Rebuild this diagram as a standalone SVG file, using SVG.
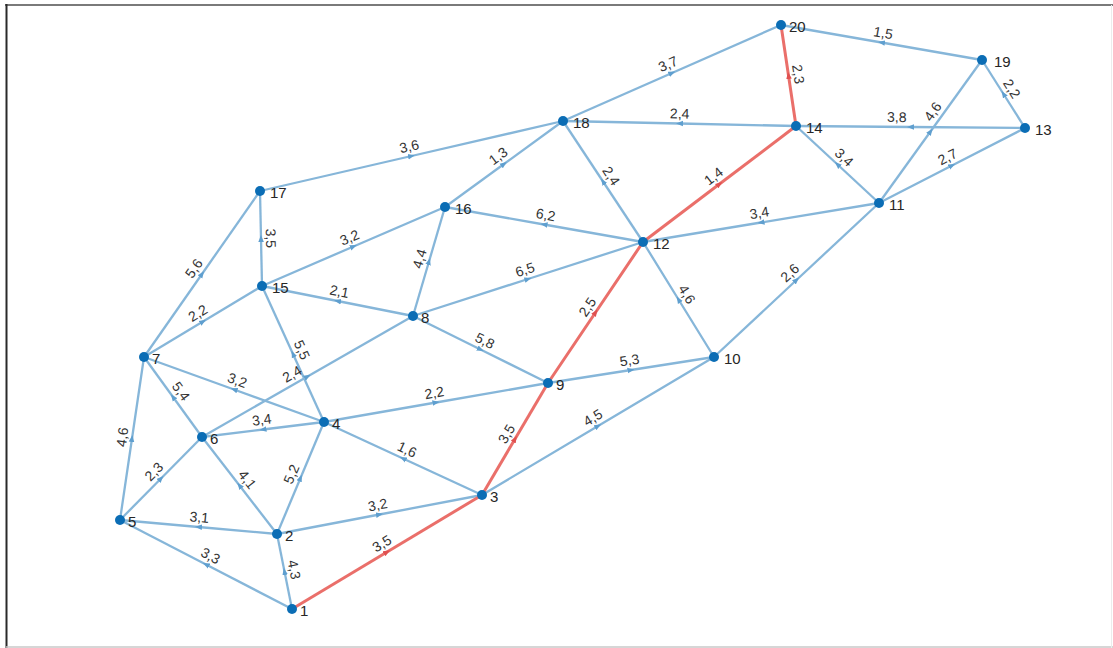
<svg xmlns="http://www.w3.org/2000/svg" xmlns:xlink="http://www.w3.org/1999/xlink" width="1113" height="648" viewBox="0 0 1113 648">
<style>
.e{fill:none;stroke:#86b6d9;stroke-width:2.3;marker-mid:url(#ab)}
.r{fill:none;stroke:#ea6f6a;stroke-width:3;marker-mid:url(#ar)}
.el{font-family:"Liberation Sans",Arial,sans-serif;font-size:14px;fill:#333333;text-anchor:middle}
.n circle{fill:#0b6db5}
.n text{font-family:"Liberation Sans",Arial,sans-serif;font-size:15px;fill:#262626}
</style>
<defs>
<marker id="ab" viewBox="0 0 10 10" refX="5" refY="5" markerWidth="7" markerHeight="7" markerUnits="userSpaceOnUse" orient="auto"><path d="M0,1 L10,5 L0,9 z" fill="#5f9fcf"/></marker>
<marker id="ar" viewBox="0 0 10 10" refX="5" refY="5" markerWidth="7" markerHeight="7" markerUnits="userSpaceOnUse" orient="auto"><path d="M0,1 L10,5 L0,9 z" fill="#e05050"/></marker>
<path id="t1-2" d="M277,534 L292,609"/>
<path id="t1-3" d="M292,609 L482,495"/>
<path id="t1-5" d="M120,520 L292,609"/>
<path id="t2-3" d="M277,534 L482,495"/>
<path id="t2-4" d="M277,534 L324,422"/>
<path id="t2-5" d="M120,520 L277,534"/>
<path id="t2-6" d="M202,437 L277,534"/>
<path id="t3-4" d="M324,422 L482,495"/>
<path id="t3-9" d="M482,495 L548,383"/>
<path id="t3-10" d="M482,495 L714,357"/>
<path id="t4-6" d="M202,437 L324,422"/>
<path id="t4-7" d="M144,357 L324,422"/>
<path id="t4-9" d="M324,422 L548,383"/>
<path id="t4-15" d="M262,286 L324,422"/>
<path id="t5-6" d="M120,520 L202,437"/>
<path id="t5-7" d="M120,520 L144,357"/>
<path id="t6-7" d="M144,357 L202,437"/>
<path id="t6-8" d="M202,437 L413,316"/>
<path id="t7-15" d="M144,357 L262,286"/>
<path id="t7-17" d="M144,357 L260,191"/>
<path id="t8-9" d="M413,316 L548,383"/>
<path id="t8-12" d="M413,316 L643,242"/>
<path id="t8-15" d="M262,286 L413,316"/>
<path id="t8-16" d="M413,316 L445,207"/>
<path id="t9-10" d="M548,383 L714,357"/>
<path id="t9-12" d="M548,383 L643,242"/>
<path id="t10-11" d="M714,357 L879,203"/>
<path id="t10-12" d="M643,242 L714,357"/>
<path id="t11-12" d="M643,242 L879,203"/>
<path id="t11-13" d="M879,203 L1025,128"/>
<path id="t11-14" d="M796,126 L879,203"/>
<path id="t11-19" d="M879,203 L982,60"/>
<path id="t12-14" d="M643,242 L796,126"/>
<path id="t12-16" d="M445,207 L643,242"/>
<path id="t12-18" d="M563,121 L643,242"/>
<path id="t13-14" d="M796,126 L1025,128"/>
<path id="t13-19" d="M982,60 L1025,128"/>
<path id="t14-18" d="M563,121 L796,126"/>
<path id="t14-20" d="M781,25 L796,126"/>
<path id="t15-16" d="M262,286 L445,207"/>
<path id="t15-17" d="M260,191 L262,286"/>
<path id="t16-18" d="M445,207 L563,121"/>
<path id="t17-18" d="M260,191 L563,121"/>
<path id="t18-20" d="M563,121 L781,25"/>
<path id="t19-20" d="M781,25 L982,60"/>
</defs>
<rect x="0" y="0" width="1113" height="648" fill="#ffffff"/>
<line x1="5" y1="5" x2="1113" y2="5" stroke="#7a7a7a" stroke-width="2"/>
<line x1="6.5" y1="4" x2="6.5" y2="648" stroke="#2a2a2a" stroke-width="2"/>
<line x1="6" y1="647" x2="1113" y2="647" stroke="#c8c8c8" stroke-width="1.5"/>
<line x1="1111.5" y1="5" x2="1111.5" y2="648" stroke="#ececec" stroke-width="1"/>
<g id="connectors">
<path class="e" d="M292,609 L284.5,571.5 L277,534"/>
<path class="e" d="M292,609 L206,564.5 L120,520"/>
<path class="e" d="M277,534 L379.5,514.5 L482,495"/>
<path class="e" d="M277,534 L300.5,478 L324,422"/>
<path class="e" d="M277,534 L198.5,527 L120,520"/>
<path class="e" d="M277,534 L239.5,485.5 L202,437"/>
<path class="e" d="M482,495 L403,458.5 L324,422"/>
<path class="e" d="M482,495 L598,426 L714,357"/>
<path class="e" d="M324,422 L263,429.5 L202,437"/>
<path class="e" d="M324,422 L234,389.5 L144,357"/>
<path class="e" d="M324,422 L436,402.5 L548,383"/>
<path class="e" d="M324,422 L293,354 L262,286"/>
<path class="e" d="M120,520 L161,478.5 L202,437"/>
<path class="e" d="M120,520 L132,438.5 L144,357"/>
<path class="e" d="M202,437 L173,397 L144,357"/>
<path class="e" d="M202,437 L307.5,376.5 L413,316"/>
<path class="e" d="M144,357 L203,321.5 L262,286"/>
<path class="e" d="M144,357 L202,274 L260,191"/>
<path class="e" d="M413,316 L480.5,349.5 L548,383"/>
<path class="e" d="M413,316 L528,279 L643,242"/>
<path class="e" d="M413,316 L337.5,301 L262,286"/>
<path class="e" d="M413,316 L429,261.5 L445,207"/>
<path class="e" d="M548,383 L631,370 L714,357"/>
<path class="e" d="M714,357 L796.5,280 L879,203"/>
<path class="e" d="M714,357 L678.5,299.5 L643,242"/>
<path class="e" d="M879,203 L761,222.5 L643,242"/>
<path class="e" d="M879,203 L952,165.5 L1025,128"/>
<path class="e" d="M879,203 L837.5,164.5 L796,126"/>
<path class="e" d="M879,203 L930.5,131.5 L982,60"/>
<path class="e" d="M643,242 L544,224.5 L445,207"/>
<path class="e" d="M643,242 L603,181.5 L563,121"/>
<path class="e" d="M1025,128 L910.5,127 L796,126"/>
<path class="e" d="M1025,128 L1003.5,94 L982,60"/>
<path class="e" d="M796,126 L679.5,123.5 L563,121"/>
<path class="e" d="M262,286 L353.5,246.5 L445,207"/>
<path class="e" d="M262,286 L261,238.5 L260,191"/>
<path class="e" d="M445,207 L504,164 L563,121"/>
<path class="e" d="M260,191 L411.5,156 L563,121"/>
<path class="e" d="M563,121 L672,73 L781,25"/>
<path class="e" d="M982,60 L881.5,42.5 L781,25"/>
<path class="r" d="M292,609 L387,552 L482,495"/>
<path class="r" d="M482,495 L515,439 L548,383"/>
<path class="r" d="M548,383 L595.5,312.5 L643,242"/>
<path class="r" d="M643,242 L719.5,184 L796,126"/>
<path class="r" d="M796,126 L788.5,75.5 L781,25"/>
</g>
<g id="edge-labels">
<text class="el" dy="-5"><textPath xlink:href="#t1-2" href="#t1-2" startOffset="50%">4,3</textPath></text>
<text class="el" dy="-5"><textPath xlink:href="#t1-3" href="#t1-3" startOffset="50%">3,5</textPath></text>
<text class="el" dy="-5"><textPath xlink:href="#t1-5" href="#t1-5" startOffset="50%">3,3</textPath></text>
<text class="el" dy="-5"><textPath xlink:href="#t2-3" href="#t2-3" startOffset="50%">3,2</textPath></text>
<text class="el" dy="-5"><textPath xlink:href="#t2-4" href="#t2-4" startOffset="50%">5,2</textPath></text>
<text class="el" dy="-5"><textPath xlink:href="#t2-5" href="#t2-5" startOffset="50%">3,1</textPath></text>
<text class="el" dy="-5"><textPath xlink:href="#t2-6" href="#t2-6" startOffset="50%">4,1</textPath></text>
<text class="el" dy="-5"><textPath xlink:href="#t3-4" href="#t3-4" startOffset="50%">1,6</textPath></text>
<text class="el" dy="-5"><textPath xlink:href="#t3-9" href="#t3-9" startOffset="50%">3,5</textPath></text>
<text class="el" dy="-5"><textPath xlink:href="#t3-10" href="#t3-10" startOffset="50%">4,5</textPath></text>
<text class="el" dy="-5"><textPath xlink:href="#t4-6" href="#t4-6" startOffset="50%">3,4</textPath></text>
<text class="el" dy="-5"><textPath xlink:href="#t4-7" href="#t4-7" startOffset="50%">3,2</textPath></text>
<text class="el" dy="-5"><textPath xlink:href="#t4-9" href="#t4-9" startOffset="50%">2,2</textPath></text>
<text class="el" dy="-5"><textPath xlink:href="#t4-15" href="#t4-15" startOffset="50%">5,5</textPath></text>
<text class="el" dy="-5"><textPath xlink:href="#t5-6" href="#t5-6" startOffset="50%">2,3</textPath></text>
<text class="el" dy="-5"><textPath xlink:href="#t5-7" href="#t5-7" startOffset="50%">4,6</textPath></text>
<text class="el" dy="-5"><textPath xlink:href="#t6-7" href="#t6-7" startOffset="50%">5,4</textPath></text>
<text class="el" dy="-5"><textPath xlink:href="#t6-8" href="#t6-8" startOffset="45%">2,4</textPath></text>
<text class="el" dy="-5"><textPath xlink:href="#t7-15" href="#t7-15" startOffset="50%">2,2</textPath></text>
<text class="el" dy="-5"><textPath xlink:href="#t7-17" href="#t7-17" startOffset="50%">5,6</textPath></text>
<text class="el" dy="-5"><textPath xlink:href="#t8-9" href="#t8-9" startOffset="50%">5,8</textPath></text>
<text class="el" dy="-5"><textPath xlink:href="#t8-12" href="#t8-12" startOffset="50%">6,5</textPath></text>
<text class="el" dy="-5"><textPath xlink:href="#t8-15" href="#t8-15" startOffset="50%">2,1</textPath></text>
<text class="el" dy="-5"><textPath xlink:href="#t8-16" href="#t8-16" startOffset="50%">4,4</textPath></text>
<text class="el" dy="-5"><textPath xlink:href="#t9-10" href="#t9-10" startOffset="50%">5,3</textPath></text>
<text class="el" dy="-5"><textPath xlink:href="#t9-12" href="#t9-12" startOffset="50%">2,5</textPath></text>
<text class="el" dy="-5"><textPath xlink:href="#t10-11" href="#t10-11" startOffset="50%">2,6</textPath></text>
<text class="el" dy="-5"><textPath xlink:href="#t10-12" href="#t10-12" startOffset="50%">4,6</textPath></text>
<text class="el" dy="-5"><textPath xlink:href="#t11-12" href="#t11-12" startOffset="50%">3,4</textPath></text>
<text class="el" dy="-5"><textPath xlink:href="#t11-13" href="#t11-13" startOffset="50%">2,7</textPath></text>
<text class="el" dy="-5"><textPath xlink:href="#t11-14" href="#t11-14" startOffset="50%">3,4</textPath></text>
<text class="el" dy="-5"><textPath xlink:href="#t11-19" href="#t11-19" startOffset="60%">4,6</textPath></text>
<text class="el" dy="-5"><textPath xlink:href="#t12-14" href="#t12-14" startOffset="50%">1,4</textPath></text>
<text class="el" dy="-5"><textPath xlink:href="#t12-16" href="#t12-16" startOffset="50%">6,2</textPath></text>
<text class="el" dy="-5"><textPath xlink:href="#t12-18" href="#t12-18" startOffset="50%">2,4</textPath></text>
<text class="el" dy="-5"><textPath xlink:href="#t13-14" href="#t13-14" startOffset="44%">3,8</textPath></text>
<text class="el" dy="-5"><textPath xlink:href="#t13-19" href="#t13-19" startOffset="50%">2,2</textPath></text>
<text class="el" dy="-5"><textPath xlink:href="#t14-18" href="#t14-18" startOffset="50%">2,4</textPath></text>
<text class="el" dy="-5"><textPath xlink:href="#t14-20" href="#t14-20" startOffset="50%">2,3</textPath></text>
<text class="el" dy="-5"><textPath xlink:href="#t15-16" href="#t15-16" startOffset="50%">3,2</textPath></text>
<text class="el" dy="-5"><textPath xlink:href="#t15-17" href="#t15-17" startOffset="50%">3,5</textPath></text>
<text class="el" dy="-5"><textPath xlink:href="#t16-18" href="#t16-18" startOffset="50%">1,3</textPath></text>
<text class="el" dy="-5"><textPath xlink:href="#t17-18" href="#t17-18" startOffset="50%">3,6</textPath></text>
<text class="el" dy="-5"><textPath xlink:href="#t18-20" href="#t18-20" startOffset="50%">3,7</textPath></text>
<text class="el" dy="-5"><textPath xlink:href="#t19-20" href="#t19-20" startOffset="50%">1,5</textPath></text>
</g>
<g id="node1" class="n"><circle cx="292" cy="609" r="5"/><text x="300" y="616">1</text></g>
<g id="node2" class="n"><circle cx="277" cy="534" r="5"/><text x="285" y="541">2</text></g>
<g id="node3" class="n"><circle cx="482" cy="495" r="5"/><text x="490" y="502">3</text></g>
<g id="node4" class="n"><circle cx="324" cy="422" r="5"/><text x="332" y="429">4</text></g>
<g id="node5" class="n"><circle cx="120" cy="520" r="5"/><text x="128" y="527">5</text></g>
<g id="node6" class="n"><circle cx="202" cy="437" r="5"/><text x="210" y="444">6</text></g>
<g id="node7" class="n"><circle cx="144" cy="357" r="5"/><text x="152" y="364">7</text></g>
<g id="node8" class="n"><circle cx="413" cy="316" r="5"/><text x="421" y="323">8</text></g>
<g id="node9" class="n"><circle cx="548" cy="383" r="5"/><text x="556" y="390">9</text></g>
<g id="node10" class="n"><circle cx="714" cy="357" r="5"/><text x="724" y="364">10</text></g>
<g id="node11" class="n"><circle cx="879" cy="203" r="5"/><text x="889" y="210">11</text></g>
<g id="node12" class="n"><circle cx="643" cy="242" r="5"/><text x="653" y="249">12</text></g>
<g id="node13" class="n"><circle cx="1025" cy="128" r="5"/><text x="1035" y="135">13</text></g>
<g id="node14" class="n"><circle cx="796" cy="126" r="5"/><text x="806" y="133">14</text></g>
<g id="node15" class="n"><circle cx="262" cy="286" r="5"/><text x="272" y="293">15</text></g>
<g id="node16" class="n"><circle cx="445" cy="207" r="5"/><text x="455" y="214">16</text></g>
<g id="node17" class="n"><circle cx="260" cy="191" r="5"/><text x="270" y="198">17</text></g>
<g id="node18" class="n"><circle cx="563" cy="121" r="5"/><text x="573" y="128">18</text></g>
<g id="node19" class="n"><circle cx="982" cy="60" r="5"/><text x="994" y="67">19</text></g>
<g id="node20" class="n"><circle cx="781" cy="25" r="5"/><text x="789" y="32">20</text></g>
</svg>
